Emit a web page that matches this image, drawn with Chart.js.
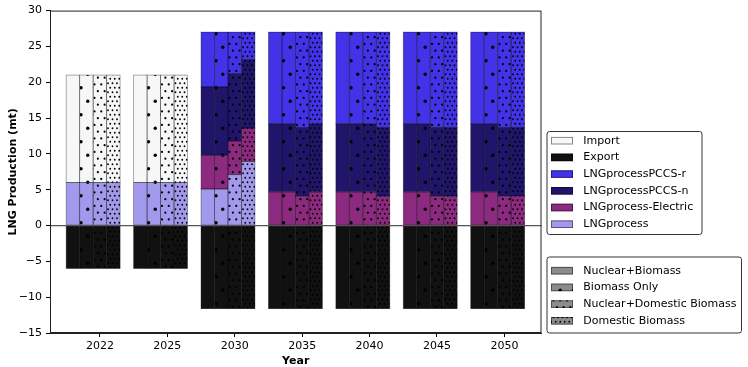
<!DOCTYPE html>
<html>
<head>
<meta charset="utf-8">
<script src="https://cdn.jsdelivr.net/npm/chart.js@4.4.1/dist/chart.umd.min.js"></script>
<style>
  body { margin: 0; background: #fff; }
  canvas { display: block; }
</style>
</head>
<body>
<canvas id="lngChart" width="748" height="367"></canvas>
<script>
// data (mt), one row per scenario, one column per year
const years = ['2022', '2025', '2030', '2035', '2040', '2045', '2050'];
const scenarios = ['Nuclear+Biomass', 'Biomass Only', 'Nuclear+Domestic Biomass', 'Domestic Biomass'];

const lngprocess = [
    [6, 6, 5.1, null, null, null, null],
    [6, 6, 5.1, null, null, null, null],
    [6, 6, 7.1, null, null, null, null],
    [6, 6, 8.95, null, null, null, null]
];
const lngElectric = [
    [null, null, 4.7, 4.7, 4.7, 4.7, 4.7],
    [null, null, 4.7, 4.7, 4.7, 4.7, 4.7],
    [null, null, 4.7, 4.1, 4.7, 4.1, 4.1],
    [null, null, 4.65, 4.7, 4.1, 4.1, 4.1]
];
const lngPCCSn = [
    [null, null, 9.55, 9.5, 9.5, 9.5, 9.5],
    [null, null, 9.55, 9.5, 9.5, 9.5, 9.5],
    [null, null, 9.4, 9.6, 9.5, 9.6, 9.6],
    [null, null, 9.55, 9.5, 9.6, 9.6, 9.6]
];
const lngPCCSr = [
    [null, null, 7.65, 12.8, 12.8, 12.8, 12.8],
    [null, null, 7.65, 12.8, 12.8, 12.8, 12.8],
    [null, null, 5.8, 13.3, 12.8, 13.3, 13.3],
    [null, null, 3.85, 12.8, 13.3, 13.3, 13.3]
];
const imports = [
    [15, 15, null, null, null, null, null],
    [15, 15, null, null, null, null, null],
    [15, 15, null, null, null, null, null],
    [15, 15, null, null, null, null, null]
];
const exports = [
    [-6, -6, -11.6, -11.6, -11.6, -11.6, -11.6],
    [-6, -6, -11.6, -11.6, -11.6, -11.6, -11.6],
    [-6, -6, -11.6, -11.6, -11.6, -11.6, -11.6],
    [-6, -6, -11.6, -11.6, -11.6, -11.6, -11.6]
];
const yTicks = [-15, -10, -5, 0, 5, 10, 15, 20, 25, 30];

// stacking order, bottom to top
const components = [
    { name: 'LNGprocess', values: lngprocess, color: '#a399ec' },
    { name: 'LNGprocess-Electric', values: lngElectric, color: '#8b2a7f' },
    { name: 'LNGprocessPCCS-n', values: lngPCCSn, color: '#20156b' },
    { name: 'LNGprocessPCCS-r', values: lngPCCSr, color: '#4232e8' },
    { name: 'Import', values: imports, color: '#f7f7f7' },
    { name: 'Export', values: exports, color: '#111111' }
];
const legendOrder = ['Import', 'Export', 'LNGprocessPCCS-r', 'LNGprocessPCCS-n', 'LNGprocess-Electric', 'LNGprocess'];

const FONT = 'DejaVu Sans';

// dotted hatches: none, '.', '..', '...'
function makePattern(color, kind) {
    if (kind === 0) return color;
    const T = 27;
    const c = document.createElement('canvas');
    c.width = T; c.height = T;
    const g = c.getContext('2d');
    g.fillStyle = color;
    g.fillRect(0, 0, T, T);
    const n = [0, 2, 4, 6][kind];
    const s = T / n;
    const r = [0, 1.7, 1.1, 0.9][kind];
    g.fillStyle = '#000';
    for (let row = 0; row < n; row++) {
        const off = row % 2 ? s / 2 : 0;
        for (let col = -1; col <= n; col++) {
            g.beginPath();
            g.arc(col * s + off, row * s + s / 2, r, 0, Math.PI * 2);
            g.fill();
        }
    }
    return g.createPattern(c, 'repeat');
}

const datasets = [];
scenarios.forEach((sc, si) => {
    components.forEach((comp) => {
        datasets.push({
            label: comp.name + ' ' + sc,
            stack: 's' + si,
            data: years.map((y, yi) => ({ x: yi - 0.1, y: comp.values[si][yi] })),
            backgroundColor: makePattern(comp.color, si),
            borderWidth: 0
        });
    });
});

function legendBox(ctx, x, y, w, h) {
    ctx.save();
    ctx.beginPath();
    ctx.roundRect(x + 0.5, y + 0.5, w, h, 2.5);
    ctx.fillStyle = 'rgba(255,255,255,0.85)';
    ctx.fill();
    ctx.strokeStyle = '#333';
    ctx.lineWidth = 1;
    ctx.stroke();
    ctx.restore();
}

function legendRow(ctx, y, fill, text) {
    ctx.fillStyle = fill;
    ctx.fillRect(551, y - 3.8, 22, 7.6);
    ctx.strokeStyle = 'rgba(0,0,0,0.45)';
    ctx.lineWidth = 1;
    ctx.strokeRect(551.5, y - 3.3, 21, 6.6);
    ctx.fillStyle = '#000';
    ctx.font = '11px "' + FONT + '"';
    ctx.textAlign = 'left';
    ctx.textBaseline = 'middle';
    ctx.fillText(text, 583.3, y);
}

const extras = {
    id: 'extras',
    afterDatasetsDraw(chart) {
        const { ctx, chartArea: a, scales } = chart;
        ctx.save();
        // thin bar outlines, like matplotlib edgecolor
        ctx.strokeStyle = 'rgba(0,0,0,0.4)';
        ctx.lineWidth = 0.8;
        chart.data.datasets.forEach((ds, di) => {
            chart.getDatasetMeta(di).data.forEach((el, i) => {
                if (ds.data[i].y === null) return;
                const p = el.getProps(['x', 'y', 'base', 'width'], true);
                const top = Math.min(p.y, p.base);
                ctx.strokeRect(p.x - p.width / 2, top, p.width, Math.abs(p.base - p.y));
            });
        });
        const y0 = scales.y.getPixelForValue(0);
        ctx.strokeStyle = '#555';
        ctx.lineWidth = 1.2;
        ctx.beginPath();
        ctx.moveTo(a.left, y0);
        ctx.lineTo(a.right, y0);
        ctx.stroke();
        ctx.strokeStyle = '#222';
        ctx.lineWidth = 1;
        ctx.strokeRect(a.left + 0.5, a.top + 0.5, a.right - a.left - 1, a.bottom - a.top - 1);
        ctx.restore();
    },
    afterDraw(chart) {
        const ctx = chart.ctx;
        ctx.save();
        legendBox(ctx, 546.5, 131, 155, 103);
        legendOrder.forEach((name, k) => {
            const comp = components.find(c => c.name === name);
            legendRow(ctx, 140.7 + k * 16.7, comp.color, name);
        });
        legendBox(ctx, 546.5, 256.5, 194.5, 76);
        scenarios.forEach((sc, k) => {
            legendRow(ctx, 270.7 + k * 16.7, makePattern('#8c8c8c', k), sc);
        });
        ctx.restore();
    }
};

new Chart(document.getElementById('lngChart'), {
    type: 'bar',
    data: { datasets: datasets },
    options: {
        responsive: false,
        animation: false,
        devicePixelRatio: 1,
        categoryPercentage: 0.8,
        barPercentage: 1.0,
        layout: { padding: { top: 5, right: 206.5, left: 0, bottom: 0 } },
        plugins: { legend: { display: false }, tooltip: { enabled: false } },
        scales: {
            x: {
                type: 'linear',
                min: -0.74,
                max: 6.55,
                offset: false,
                afterBuildTicks: (s) => { s.ticks = years.map((y, i) => ({ value: i })); },
                afterFit: (s) => { s.height = 34; },
                ticks: {
                    callback: (v, i) => years[i],
                    font: { family: FONT, size: 11 },
                    color: '#000',
                    padding: 3,
                    maxRotation: 0,
                    autoSkip: false
                },
                grid: { offset: false, drawOnChartArea: false, tickLength: 4, color: '#000' },
                border: { display: true, color: '#222' },
                title: {
                    display: true,
                    text: 'Year',
                    color: '#000',
                    font: { family: FONT, size: 11, weight: 'bold', lineHeight: 1 },
                    padding: 0
                }
            },
            y: {
                stacked: true,
                min: -15,
                max: 30,
                afterBuildTicks: (s) => { s.ticks = yTicks.map(v => ({ value: v })); },
                afterFit: (s) => { s.width = 50; },
                ticks: {
                    callback: (v) => String(v).replace('-', '\u2212'),
                    font: { family: FONT, size: 11 },
                    color: '#000',
                    padding: 4
                },
                grid: { drawOnChartArea: false, tickLength: 4, color: '#000' },
                border: { display: true, color: '#222' },
                title: {
                    display: true,
                    text: 'LNG Production (mt)',
                    color: '#000',
                    font: { family: FONT, size: 11, weight: 'bold', lineHeight: 1 },
                    padding: { top: 7.5, bottom: 0 }
                }
            }
        }
    },
    plugins: [extras]
});
</script>
</body>
</html>
